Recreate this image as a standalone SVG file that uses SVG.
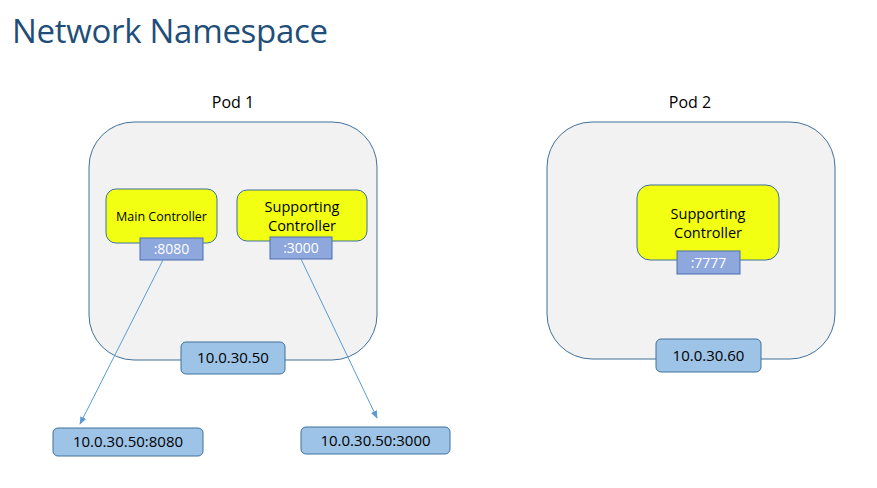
<svg xmlns="http://www.w3.org/2000/svg" width="877" height="488" viewBox="0 0 877 488">
<defs>
<style>
.pod{fill:#F2F2F2;stroke:#41719C;stroke-width:1}
.ctrl{fill:#F2FF12;stroke:#41719C;stroke-width:1}
.port{fill:#8EA7DC;stroke:#4A6EB0;stroke-width:1}
.ip{fill:#9DC3E6;stroke:#41719C;stroke-width:1}
text{font-family:"Open Sans","Liberation Sans",sans-serif;text-anchor:middle;fill:#000}
.porttxt{fill:#fff;font-size:14px}
.iptxt{font-size:15px}
.conn{stroke:#5B9BD5;stroke-width:1;fill:none}
</style>
<marker id="ah" viewBox="0 0 10 10" refX="9" refY="5" markerWidth="8" markerHeight="8" orient="auto" markerUnits="userSpaceOnUse">
<path d="M0,1 L10,5 L0,9 z" fill="#5B9BD5"/>
</marker>
</defs>
<rect width="877" height="488" fill="#fff"/>
<text x="12" y="43" style="text-anchor:start;font-size:33px;fill:#1F4E79;font-weight:400" textLength="316">Network Namespace</text>

<g id="pod1">
<text x="233" y="108" style="font-size:16px">Pod 1</text>
<rect class="pod" x="89" y="122" width="288" height="238" rx="45"/>
</g>
<g id="main-controller">
<rect class="ctrl" x="106" y="189" width="111" height="54" rx="10"/>
<text x="161.5" y="221" style="font-size:12.5px">Main Controller</text>
</g>
<g id="port-8080">
<rect class="port" x="140" y="238" width="63" height="22"/>
<text class="porttxt" x="171.5" y="254">:8080</text>
</g>
<g id="supporting-controller-1">
<rect class="ctrl" x="237" y="190" width="130" height="51" rx="10"/>
<text x="302" y="212" style="font-size:14.5px">Supporting</text>
<text x="302" y="231" style="font-size:14.5px">Controller</text>
</g>
<g id="port-3000">
<rect class="port" x="270" y="237" width="62" height="22"/>
<text class="porttxt" x="301" y="253">:3000</text>
</g>
<g id="ip-pod1">
<rect class="ip" x="181" y="342" width="104" height="32" rx="5"/>
<text class="iptxt" x="233" y="363">10.0.30.50</text>
</g>

<g id="pod2">
<text x="690" y="108" style="font-size:16px">Pod 2</text>
<rect class="pod" x="547" y="122" width="288" height="237" rx="45"/>
</g>
<g id="supporting-controller-2">
<rect class="ctrl" x="637" y="185" width="142" height="75" rx="13"/>
<text x="708" y="219" style="font-size:14.5px">Supporting</text>
<text x="708" y="238" style="font-size:14.5px">Controller</text>
</g>
<g id="port-7777">
<rect class="port" x="677" y="251" width="63" height="23"/>
<text class="porttxt" x="708.5" y="268">:7777</text>
</g>
<g id="ip-pod2">
<rect class="ip" x="656" y="339" width="105" height="33" rx="5"/>
<text class="iptxt" x="708.5" y="361">10.0.30.60</text>
</g>

<g id="ext-8080">
<rect class="ip" x="53" y="428" width="150" height="28" rx="5"/>
<text class="iptxt" x="128" y="447">10.0.30.50:8080</text>
</g>
<g id="ext-3000">
<rect class="ip" x="301" y="427" width="149" height="27" rx="5"/>
<text class="iptxt" x="375.5" y="446">10.0.30.50:3000</text>
</g>

<g id="connectors">
<line class="conn" x1="163" y1="260" x2="80" y2="424" marker-end="url(#ah)"/>
<line class="conn" x1="301" y1="259" x2="377" y2="418" marker-end="url(#ah)"/>
</g>
</svg>
